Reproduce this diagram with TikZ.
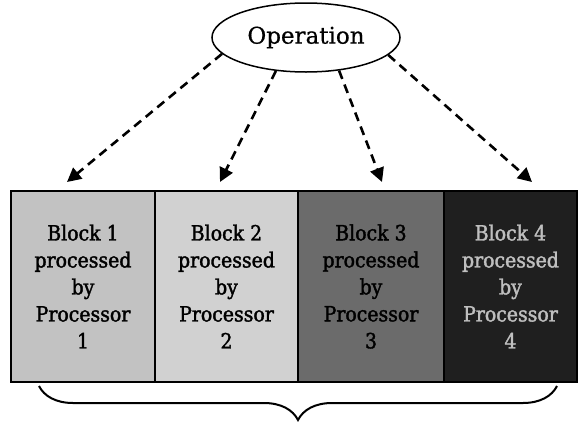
\documentclass[tikz,border=0pt]{standalone}
\usepackage{fontspec}
\setmainfont{DejaVu Serif}
\newfontfamily\blockfont[FakeStretch=0.9,FakeBold=1.6]{DejaVu Serif}
\newfontfamily\opfont[FakeBold=0.6]{DejaVu Serif}
\usetikzlibrary{shapes.geometric,arrows.meta,decorations.pathreplacing}
\begin{document}
\begin{tikzpicture}[x=1pt,y=-1pt,
  opnode/.style={ellipse,draw,line width=1.5pt,minimum width=188pt,minimum height=69pt,
    inner sep=0pt,font=\opfont\fontsize{23}{27}\selectfont},
  blockbox/.style={rectangle,draw,line width=2pt,minimum height=191pt,inner sep=0pt,
    align=center,font=\blockfont\fontsize{21}{27}\selectfont},
  flow/.style={dash pattern=on 9pt off 6pt,line width=2.6pt,
    -{Triangle[length=14pt,width=14pt]}},
  bracecurve/.style={line width=2pt,decorate,decoration={brace,mirror,amplitude=34pt}},
]
\useasboundingbox (0,0) rectangle (579,421);

% operation that is split across the processors
\node[opnode] (op) at (306,37.5) {Operation};

% the four data blocks
\node[blockbox,minimum width=144pt,fill=black!24] (b1) at (83,286.5)
  {Block 1\\processed\\by\\Processor\\1};
\node[blockbox,minimum width=143pt,fill=black!18] (b2) at (226.5,286.5)
  {Block 2\\processed\\by\\Processor\\2};
\node[blockbox,minimum width=146pt,fill=black!58] (b3) at (371,286.5)
  {Block 3\\processed\\by\\Processor\\3};
\node[blockbox,minimum width=133pt,fill=black!88,text=white!75!black] (b4) at (510.5,286.5)
  {Block 4\\processed\\by\\Processor\\4};

% arrow tips above the blocks
\coordinate (t1) at (67,182);
\coordinate (t2) at (220,182);
\coordinate (t3) at (382,182);
\coordinate (t4) at (532,182);

\draw[flow] (op.191) -- (t1);
\draw[flow] (op.228) -- (t2);
\draw[flow] (op.315) -- (t3);
\draw[flow] (op.348) -- (t4);

% brace under the blocks
\coordinate (bl) at (39,386);
\coordinate (br) at (557,386);
\draw[bracecurve] (bl) -- (br);
\end{tikzpicture}
\end{document}
